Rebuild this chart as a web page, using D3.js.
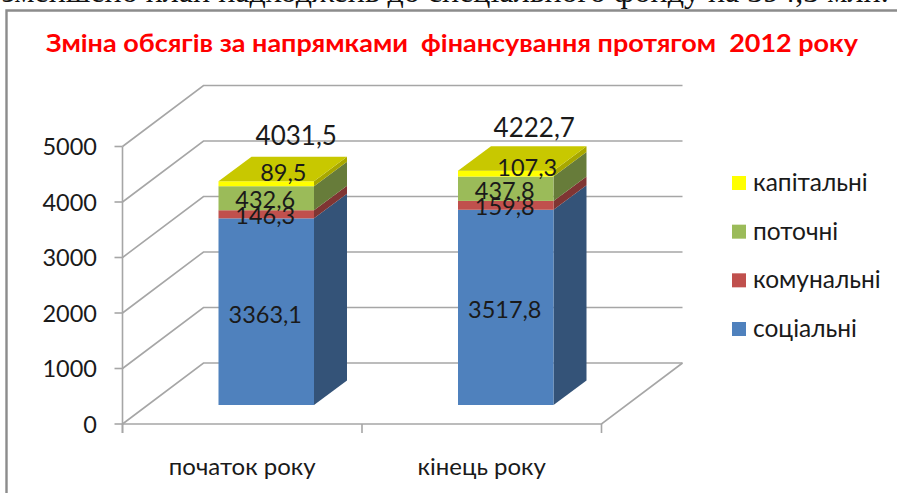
<!DOCTYPE html>
<html><head><meta charset="utf-8">
<script src="https://cdn.jsdelivr.net/npm/d3@7/dist/d3.min.js"></script>
<style>html,body{margin:0;padding:0;background:#fff;overflow:hidden}svg{display:block}</style>
</head><body><svg id="c" width="897" height="493"></svg>
<script>
const categories = ["початок року", "кінець року"];
const seriesNames = ["соціальні", "комунальні", "поточні", "капітальні"];
const social = [3363.1, 3517.8];
const communal = [146.3, 159.8];
const current = [432.6, 437.8];
const capital = [89.5, 107.3];
const totals = [4031.5, 4222.7];
const yTicks = [0, 1000, 2000, 3000, 4000, 5000];
const frontColors = ["#4f81bd", "#c0504d", "#9bbb59", "#ffff00"];
const sideColors = ["#345378", "#7f3533", "#677c3a", "#a8a800"];
const topColor = "#c8c800";
const headerText = "зменшено план надходжень до спеціального фонду на 394,3 млн.";
const titleText = "Зміна обсягів за напрямками  фінансування протягом  2012 року";

const svg = d3.select("#c");
const font = "Lato, 'Open Sans', sans-serif";
const txt = "#1a1a1a", grid = "#a6a6a6";
const x = d3.scaleBand().domain(categories).range([122.5, 601.5]);
const y = d3.scaleLinear().domain([0, 5000]).range([424, 146.5]);
const wall = {dx: 81, dy: -61};
const barX = {dx: 24, dy: -19, depthX: 33, depthY: -24.5, w: 95.5};
const lineG = svg.append("g").attr("fill", "none").attr("stroke", grid).attr("stroke-width", 1.6);

// page text and frame
svg.append("text").text(headerText).attr("x", 2).attr("y", 2).attr("font-family", "'Liberation Serif', serif").attr("font-size", 32).attr("fill", "#111");
svg.append("path").attr("d", "M897,10.5H6.5V493").attr("fill", "none").attr("stroke", "#8c8c8c").attr("stroke-width", 2.4);
svg.append("text").text(titleText).attr("x", 46).attr("y", 52).attr("xml:space", "preserve")
  .attr("textLength", 812).attr("lengthAdjust", "spacingAndGlyphs")
  .attr("font-family", font).attr("font-weight", 700).attr("font-size", 25).attr("fill", "#ff0000");

// walls
yTicks.forEach(t => {
  const v = y(t);
  lineG.append("path").attr("d", `M${x.range()[0]},${v}l${wall.dx},${wall.dy}H${x.range()[1] + wall.dx}`);
  lineG.append("path").attr("d", `M${x.range()[0] - 8},${v}H${x.range()[0]}`);
  svg.append("text").text(t).attr("x", 97).attr("y", v + 8.5).attr("text-anchor", "end").attr("font-family", font).attr("font-size", 23.5).attr("fill", txt);
});
lineG.append("path").attr("d", `M${x.range()[0]},${y(5000)}V${y(0) + 9}`);
lineG.append("path").attr("d", `M${x.range()[0]},${y(0)}H${x.range()[1]}l${wall.dx},${wall.dy}`);
[...categories.map(c => x(c)), x.range()[1]].forEach(px => lineG.append("path").attr("d", `M${px},${y(0)}v9`));

// bars
const stacks = [social, communal, current, capital];
const capOffset = [[17, -0.5], [21.5, 5]];
const totalOffset = [[30, -36], [28.5, -34]];
categories.forEach((c, i) => {
  const left = x(c) + (x.bandwidth() - barX.w) / 2 + barX.dx;
  const right = left + barX.w;
  let cum = 0;
  const g = svg.append("g");
  stacks.forEach((s, k) => {
    const lo = y(cum) + barX.dy, hi = y(cum + s[i]) + barX.dy;
    g.append("path").attr("fill", sideColors[k]).attr("d", `M${right},${lo}l${barX.depthX},${barX.depthY}V${hi + barX.depthY}l${-barX.depthX},${-barX.depthY}Z`);
    g.append("rect").attr("fill", frontColors[k]).attr("x", left).attr("y", hi).attr("width", barX.w).attr("height", lo - hi);
    cum += s[i];
  });
  const t = y(cum) + barX.dy;
  g.append("path").attr("fill", topColor).attr("d", `M${left},${t}l${barX.depthX},${barX.depthY}H${right + barX.depthX}l${-barX.depthX},${-barX.depthY}Z`);

  // labels
  const lab = (val, lx, ly, fs) => svg.append("text").text(String(val).replace(".", ",")).attr("x", lx).attr("y", ly).attr("text-anchor", "middle")
    .attr("font-family", font).attr("font-size", fs).attr("fill", txt);
  const cx = left + barX.w / 2;
  lab(social[i], cx - 1, y(social[i] / 2) + barX.dy + 11, 23.5);
  lab(communal[i], cx - 1, y(social[i] + communal[i] / 2) + barX.dy + 10, 23.5);
  lab(current[i], cx - 1, y(social[i] + communal[i] + current[i] / 2) + barX.dy + 10, 23.5);
  lab(capital[i], cx + capOffset[i][0], t + capOffset[i][1], 23.5);
  lab(totals[i], cx + totalOffset[i][0], t + totalOffset[i][1], 26);
  // category
  svg.append("text").text(c).attr("x", x(c) + x.bandwidth() / 2).attr("y", 475).attr("text-anchor", "middle").attr("font-family", font).attr("font-size", 24).attr("fill", txt);
});

// legend
const ly = d3.scalePoint().domain([...seriesNames].reverse()).range([183, 329]);
seriesNames.forEach((n, k) => {
  const v = ly(n);
  svg.append("rect").attr("x", 732).attr("y", v - 7).attr("width", 14).attr("height", 14).attr("fill", frontColors[k]);
  svg.append("text").text(n).attr("x", 753).attr("y", v + 8).attr("font-family", font).attr("font-size", 24.5).attr("fill", txt);
});
</script></body></html>
